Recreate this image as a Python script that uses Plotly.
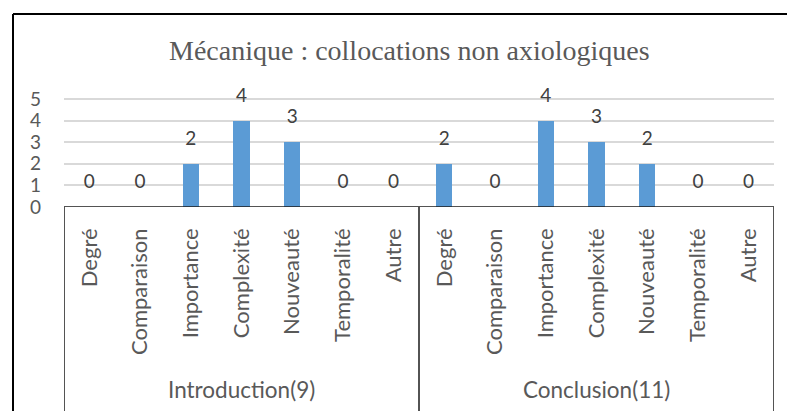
import plotly.graph_objects as go

title = "Mécanique : collocations non axiologiques"
categories = ["Degré", "Comparaison", "Importance", "Complexité", "Nouveauté", "Temporalité", "Autre"]
groups = ["Introduction(9)", "Conclusion(11)"]
intro_values = [0, 0, 2, 4, 3, 0, 0]
concl_values = [2, 0, 4, 3, 2, 0, 0]
y_ticks = [0, 1, 2, 3, 4, 5]

values = intro_values + concl_values
labels = categories + categories
xpos = list(range(len(values)))
n_cat = len(categories)

# page is shown with an 8px body margin; figure sized to fit the window
OFF = 8
W, H = 795 - OFF, 411 - OFF
Y_TOP = 5.6
UNIT = 21.6
ML, MR = 64 - OFF, 795 - 774
PH = round(Y_TOP * UNIT)
MB = H - (207 - OFF)
MT = H - MB - PH
PW = W - ML - MR

def px_x(p):  # page px -> paper
    return (p - OFF - ML) / PW

def px_y(p):
    return (H - MB - (p - OFF)) / PH

BAR = "#5B9BD5"
TXT = "#595959"
SANS = "Lato, 'Open Sans', sans-serif"

fig = go.Figure()
fig.add_trace(go.Bar(x=xpos, y=values, width=0.32, marker=dict(color=BAR, line=dict(width=0)),
                     hoverinfo="skip", showlegend=False))
fig.add_trace(go.Scatter(x=xpos, y=[v + 1.1 for v in values], mode="text",
                         text=[str(v) for v in values], textposition="middle center",
                         textfont=dict(family=SANS, size=19, color="#404040"),
                         cliponaxis=False, hoverinfo="skip", showlegend=False))

shapes = []
line_box = dict(color="#1a1a1a", width=1.5)
shapes.append(dict(type="line", xref="x", yref="y", x0=-0.5, x1=len(values) - 0.5, y0=0, y1=0, line=line_box))
for xb in [-0.5, n_cat - 0.5, len(values) - 0.5]:
    shapes.append(dict(type="line", xref="x", yref="paper", x0=xb, x1=xb, y0=0, y1=px_y(425), line=line_box))
frame = dict(color="black", width=2)
shapes.append(dict(type="line", xref="paper", yref="paper", x0=px_x(13), x1=px_x(13), y0=px_y(14), y1=px_y(425), line=frame))
shapes.append(dict(type="line", xref="paper", yref="paper", x0=px_x(13), x1=px_x(805), y0=px_y(14), y1=px_y(14), line=frame))

annotations = []
for gi, g in enumerate(groups):
    annotations.append(dict(x=gi * n_cat + (n_cat - 1) / 2, xref="x", y=px_y(389), yref="paper",
                            text=g, showarrow=False, xanchor="center", yanchor="middle",
                            font=dict(family=SANS, size=22.5, color=TXT)))
annotations.append(dict(x=px_x(409), xref="paper", y=px_y(50), yref="paper", text=title, showarrow=False,
                        xanchor="center", yanchor="middle",
                        font=dict(family="'Liberation Serif', 'Times New Roman', serif", size=28, color=TXT)))

fig.update_layout(
    width=W, height=H,
    margin=dict(l=ML, r=MR, t=MT, b=MB, pad=0),
    paper_bgcolor="white", plot_bgcolor="white",
    shapes=shapes, annotations=annotations,
    bargap=0,
    xaxis=dict(range=[-0.5, len(values) - 0.5], tickmode="array", tickvals=xpos, ticktext=labels,
               tickangle=-90, showgrid=False, zeroline=False, showline=False, ticks="",
               ticklabelstandoff=16, tickfont=dict(family=SANS, size=22, color=TXT), fixedrange=True),
    yaxis=dict(range=[0, Y_TOP], tickmode="array", tickvals=y_ticks, showgrid=True, gridcolor="#D9D9D9",
               gridwidth=1.5, zeroline=False, showline=False, ticks="", ticklabelstandoff=22,
               tickfont=dict(family=SANS, size=19, color=TXT), fixedrange=True),
)

fig.write_html("out.html")
